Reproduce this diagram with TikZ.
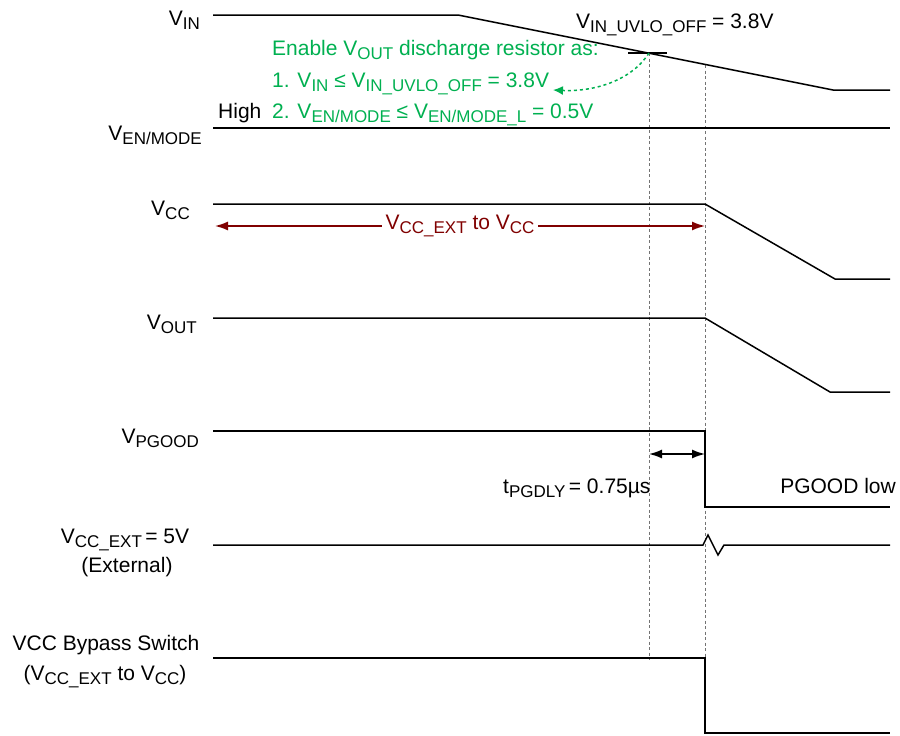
\documentclass[tikz,border=0pt]{standalone}
\usepackage{fontspec}
\setmainfont{Liberation Sans}
\usetikzlibrary{arrows.meta}
\definecolor{engreen}{RGB}{0,176,80}
\definecolor{extred}{RGB}{128,0,0}
\newcommand{\sbs}[1]{\raisebox{-4pt}{\fontsize{17}{17}\selectfont #1}}

\begin{document}
\begin{tikzpicture}[x=1pt,y=-1pt,font=\fontsize{21}{25}\selectfont,
  every node/.style={inner sep=0pt},
  wave/.style={line width=1.5pt},
  guide/.style={black!55,line width=1pt,dash pattern=on 3pt off 2.5pt},
  lbl/.style={anchor=base east},
  note/.style={anchor=base west,text=engreen},
  span/.style={line width=1.5pt,{Latex[length=13pt,width=9pt]}-{Latex[length=13pt,width=9pt]}}]
  \useasboundingbox (0,0) rectangle (900,736);

  \node[lbl] (vin) at (200,25) {V\sbs{IN}};
  \node[lbl] (ven) at (202,140) {V\sbs{EN/MODE}};
  \node[lbl] (vcc) at (190,215) {V\sbs{CC}};
  \node[lbl] (vout) at (197,329) {V\sbs{OUT}};
  \node[lbl] (vpg) at (199,443) {V\sbs{PGOOD}};
  \node[anchor=base] (vext) at (125,543) {V\sbs{CC\_EXT}\,= 5V};
  \node[anchor=base] (vextb) at (127,572) {(External)};
  \node[anchor=base] (byp) at (106,650) {VCC Bypass Switch};
  \node[anchor=base] (bypb) at (105,680) {(V\sbs{CC\_EXT} to V\sbs{CC})};

  \node[anchor=base west] (uvlo) at (576,28) {V\sbs{IN\_UVLO\_OFF} = 3.8V};
  \node[note] (en1) at (272,55) {Enable V\sbs{OUT} discharge resistor as:};
  \node[note] (en2) at (272,87) {1. V\sbs{IN} ≤ V\sbs{IN\_UVLO\_OFF} = 3.8V};
  \node[note] (en3) at (272,118) {2. V\sbs{EN/MODE} ≤ V\sbs{EN/MODE\_L} = 0.5V};
  \node[anchor=base west] (high) at (218,118) {High};
  \node[anchor=base west] (tpg) at (503,493) {t\sbs{PGDLY}\,= 0.75µs};
  \node[anchor=base east] (pglow) at (896,493) {PGOOD low};

  \coordinate (in0) at (213,15);
  \coordinate (in1) at (458,15);
  \coordinate (in2) at (833,90);
  \coordinate (in3) at (890,90);
  \coordinate (uv) at (649,53);
  \coordinate (uvl) at (628,53);
  \coordinate (uvr) at (667,53);
  \coordinate (tip) at (553,90);
  \coordinate (g1) at (649,660);
  \coordinate (fall) at (705,65);
  \coordinate (g2) at (705,736);

  \coordinate (en0) at (213,128);
  \coordinate (en1e) at (890,128);

  \coordinate (cc0) at (213,204);
  \coordinate (cc1) at (705,204);
  \coordinate (cc2) at (835,279);
  \coordinate (cc3) at (890,279);
  \coordinate (ra) at (215,226);
  \coordinate (rb) at (705,226);

  \coordinate (o0) at (213,318);
  \coordinate (o1) at (705,318);
  \coordinate (o2) at (830,392);
  \coordinate (o3) at (890,392);

  \coordinate (p0) at (213,431);
  \coordinate (p1) at (705,431);
  \coordinate (p2) at (705,507);
  \coordinate (p3) at (890,507);
  \coordinate (da) at (649,454);
  \coordinate (db) at (705,454);

  \coordinate (x0) at (213,545);
  \coordinate (x1) at (703,545);
  \coordinate (x2) at (708,535);
  \coordinate (x3) at (718,555);
  \coordinate (x4) at (724,545);
  \coordinate (x5) at (890,545);

  \coordinate (b0) at (213,658);
  \coordinate (b1) at (705,658);
  \coordinate (b2) at (705,733);
  \coordinate (b3) at (890,733);

  \draw[guide] (uv) -- (g1);
  \draw[guide] (fall) -- (g2);
  \draw[wave] (in0) -- (in1) -- (in2) -- (in3);
  \draw[wave] (uvl) -- (uvr);
  \draw[engreen,line width=1.5pt,dash pattern=on 3pt off 3pt,-{Latex[length=10pt,width=9pt]}]
    (uv) .. controls (632,80) and (595,92) .. (tip);
  \draw[wave] (en0) -- (en1e);
  \draw[wave] (cc0) -- (cc1) -- (cc2) -- (cc3);
  \draw[span,extred] (ra) -- node[fill=white,inner xsep=4pt,inner ysep=2pt,text=extred] (ccl) {V\sbs{CC\_EXT} to V\sbs{CC}} (rb);
  \draw[wave] (o0) -- (o1) -- (o2) -- (o3);
  \draw[wave] (p0) -- (p1) -- (p2) -- (p3);
  \draw[span] (da) -- (db);
  \draw[wave] (x0) -- (x1) -- (x2) -- (x3) -- (x4) -- (x5);
  \draw[wave] (b0) -- (b1) -- (b2) -- (b3);
\end{tikzpicture}
\end{document}
